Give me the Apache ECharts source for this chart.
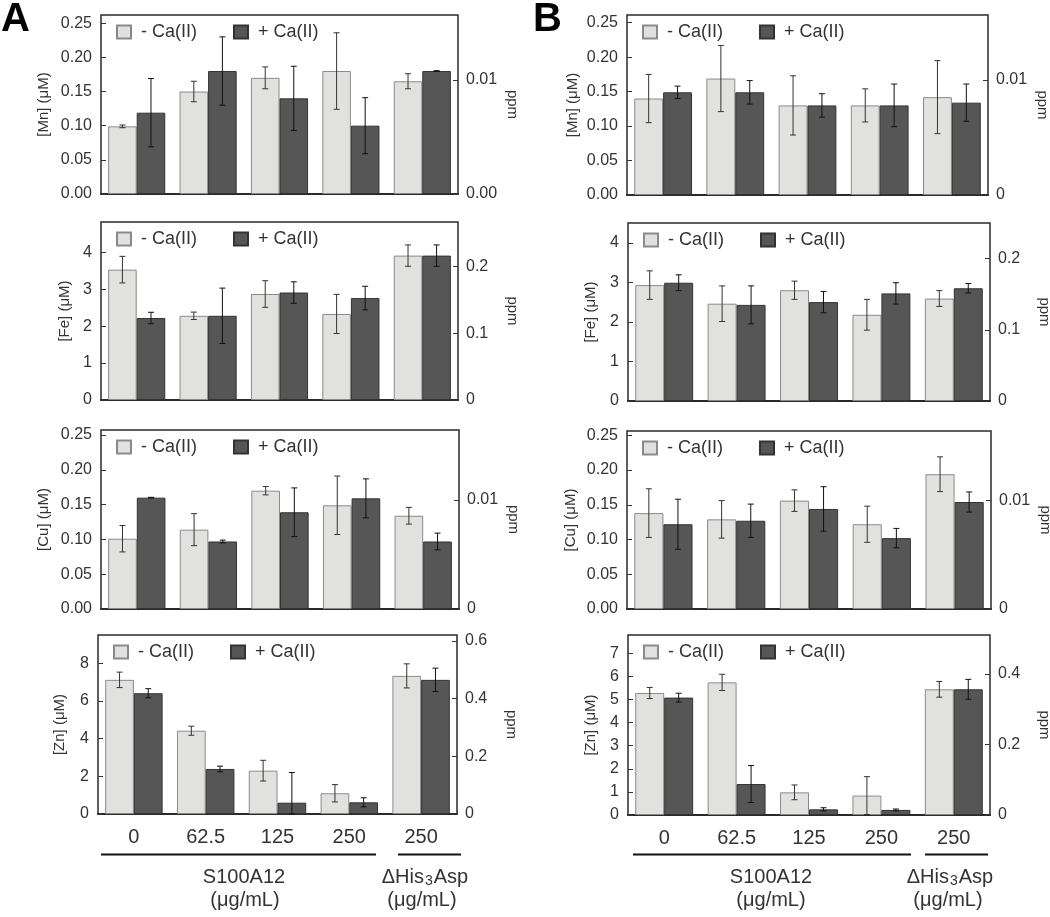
<!DOCTYPE html>
<html><head><meta charset="utf-8">
<script src="https://cdn.jsdelivr.net/npm/echarts@6/dist/echarts.min.js"></script>
<style>html,body{margin:0;padding:0;background:#fff}#c{width:1050px;height:917px}</style>
</head><body><div id="c"></div>
<script>
// ---------- DATA ----------
const categories = ['0', '62.5', '125', '250', '250'];
const seriesNames = ['- Ca(II)', '+ Ca(II)'];

// Panel A (values in µM, errors = half-length of error bars)
const aMnMinus = [0.099, 0.150, 0.170, 0.180, 0.165];
const aMnMinusErr = [0.002, 0.015, 0.016, 0.056, 0.011];
const aMnPlus = [0.119, 0.180, 0.140, 0.100, 0.180];
const aMnPlusErr = [0.050, 0.050, 0.047, 0.041, 0.0005];
const aFeMinus = [3.53, 2.28, 2.87, 2.33, 3.91];
const aFeMinusErr = [0.36, 0.10, 0.36, 0.53, 0.29];
const aFePlus = [2.22, 2.28, 2.91, 2.76, 3.91];
const aFePlusErr = [0.155, 0.75, 0.29, 0.32, 0.29];
const aCuMinus = [0.101, 0.114, 0.170, 0.149, 0.134];
const aCuMinusErr = [0.019, 0.023, 0.006, 0.042, 0.012];
const aCuPlus = [0.160, 0.097, 0.139, 0.159, 0.097];
const aCuPlusErr = [0.0005, 0.002, 0.035, 0.028, 0.012];
const aZnMinus = [7.12, 4.42, 2.30, 1.10, 7.33];
const aZnMinusErr = [0.41, 0.24, 0.55, 0.46, 0.64];
const aZnPlus = [6.41, 2.39, 0.60, 0.62, 7.12];
const aZnPlusErr = [0.24, 0.15, 1.60, 0.24, 0.62];

// Panel B
const bMnMinus = [0.140, 0.169, 0.130, 0.130, 0.142];
const bMnMinusErr = [0.035, 0.048, 0.043, 0.024, 0.053];
const bMnPlus = [0.149, 0.149, 0.130, 0.130, 0.134];
const bMnPlusErr = [0.009, 0.017, 0.017, 0.031, 0.027];
const bFeMinus = [2.93, 2.46, 2.80, 2.18, 2.59];
const bFeMinusErr = [0.36, 0.45, 0.23, 0.39, 0.20];
const bFePlus = [2.99, 2.43, 2.50, 2.72, 2.85];
const bFePlusErr = [0.20, 0.48, 0.27, 0.27, 0.12];
const bCuMinus = [0.138, 0.129, 0.156, 0.122, 0.194];
const bCuMinusErr = [0.035, 0.027, 0.0155, 0.026, 0.025];
const bCuPlus = [0.122, 0.127, 0.144, 0.102, 0.154];
const bCuPlusErr = [0.036, 0.024, 0.032, 0.014, 0.0145];
const bZnMinus = [5.28, 5.74, 0.98, 0.84, 5.44];
const bZnMinusErr = [0.24, 0.35, 0.32, 0.82, 0.34];
const bZnPlus = [5.08, 1.34, 0.245, 0.22, 5.44];
const bZnPlusErr = [0.19, 0.80, 0.07, 0.04, 0.43];

// Tick values / labels
const mnCuTicks = [0, 0.05, 0.10, 0.15, 0.20, 0.25];
const feTicks = [0, 1, 2, 3, 4];
const aZnTicks = [0, 2, 4, 6, 8];
const bZnTicks = [0, 1, 2, 3, 4, 5, 6, 7];
const aMnPpmTicks = [0, 0.01];
const aMnPpmLabels = ['0.00', '0.01'];
const mnCuPpmTicks = [0, 0.01];
const mnCuPpmLabels = ['0', '0.01'];
const fePpmTicks = [0, 0.1, 0.2];
const fePpmLabels = ['0', '0.1', '0.2'];
const aZnPpmTicks = [0, 0.2, 0.4, 0.6];
const aZnPpmLabels = ['0', '0.2', '0.4', '0.6'];
const bZnPpmTicks = [0, 0.2, 0.4];
const bZnPpmLabels = ['0', '0.2', '0.4'];

// ---------- LAYOUT ----------
const FF = 'Arial, "Liberation Sans", Helvetica, sans-serif';
const LIGHT = { color: '#e1e2e0', borderColor: '#8a8a8a', borderWidth: 1 };
const DARK = { color: '#565656', borderColor: '#333333', borderWidth: 1 };

const panels = [
  { g: [101, 15, 357, 179], el: 'Mn', m: aMnMinus, me: aMnMinusErr, p: aMnPlus, pe: aMnPlusErr, lMax: 0.262, lT: mnCuTicks, dec: 2, rMax: 0.0157, rT: aMnPpmTicks, rL: aMnPpmLabels, ng: 50, bottom: false },
  { g: [101, 222, 357, 178], el: 'Fe', m: aFeMinus, me: aFeMinusErr, p: aFePlus, pe: aFePlusErr, lMax: 4.82, lT: feTicks, dec: 0, rMax: 0.2665, rT: fePpmTicks, rL: fePpmLabels, ng: 29, bottom: false },
  { g: [101, 430, 358, 179], el: 'Cu', m: aCuMinus, me: aCuMinusErr, p: aCuPlus, pe: aCuPlusErr, lMax: 0.2572, lT: mnCuTicks, dec: 2, rMax: 0.01642, rT: mnCuPpmTicks, rL: mnCuPpmLabels, ng: 50, bottom: false },
  { g: [98, 635, 359, 179], el: 'Zn', m: aZnMinus, me: aZnMinusErr, p: aZnPlus, pe: aZnPlusErr, lMax: 9.5, lT: aZnTicks, dec: 0, rMax: 0.621, rT: aZnPpmTicks, rL: aZnPpmLabels, ng: 31, bottom: true },
  { g: [627, 15, 361, 180], el: 'Mn', m: bMnMinus, me: bMnMinusErr, p: bMnPlus, pe: bMnPlusErr, lMax: 0.2612, lT: mnCuTicks, dec: 2, rMax: 0.01565, rT: mnCuPpmTicks, rL: mnCuPpmLabels, ng: 47, bottom: false },
  { g: [628, 223, 362, 178], el: 'Fe', m: bFeMinus, me: bFeMinusErr, p: bFePlus, pe: bFePlusErr, lMax: 4.5, lT: feTicks, dec: 0, rMax: 0.25, rT: fePpmTicks, rL: fePpmLabels, ng: 30, bottom: false },
  { g: [627, 431, 364, 178], el: 'Cu', m: bCuMinus, me: bCuMinusErr, p: bCuPlus, pe: bCuPlusErr, lMax: 0.2562, lT: mnCuTicks, dec: 2, rMax: 0.0164, rT: mnCuPpmTicks, rL: mnCuPpmLabels, ng: 49, bottom: false },
  { g: [628, 635, 362, 180], el: 'Zn', m: bZnMinus, me: bZnMinusErr, p: bZnPlus, pe: bZnPlusErr, lMax: 7.79, lT: bZnTicks, dec: 0, rMax: 0.51, rT: bZnPpmTicks, rL: bZnPpmLabels, ng: 30, bottom: true }
];

function findIdx(arr, v) {
  for (let i = 0; i < arr.length; i++) if (Math.abs(arr[i] - v) < 1e-9) return i;
  return -1;
}

function errSeries(i, vals, errs, side, color) {
  return {
    type: 'custom', xAxisIndex: i, yAxisIndex: 2 * i, z: 5, silent: true,
    data: vals.map((v, k) => [k, v, errs[k]]),
    encode: { x: 0, y: 1 },
    renderItem: (params, api) => {
      const k = api.value(0), v = api.value(1), e = api.value(2);
      const band = api.size([1, 0])[0];
      const cx = api.coord([k, v])[0] + side * 0.2 * band;
      const yt = api.coord([k, v + e])[1];
      const yb = api.coord([k, Math.max(0, v - e)])[1];
      const h = 3;
      const st = { stroke: color, lineWidth: 1 };
      return {
        type: 'group', children: [
          { type: 'line', shape: { x1: cx, y1: yt, x2: cx, y2: yb }, style: st },
          { type: 'line', shape: { x1: cx - h, y1: yt, x2: cx + h, y2: yt }, style: st },
          { type: 'line', shape: { x1: cx - h, y1: yb, x2: cx + h, y2: yb }, style: st }
        ]
      };
    }
  };
}

const option = {
  animation: false,
  backgroundColor: '#ffffff',
  textStyle: { fontFamily: FF },
  grid: [], xAxis: [], yAxis: [], series: [], legend: [], graphic: []
};

panels.forEach((P, i) => {
  option.grid.push({
    left: P.g[0], top: P.g[1], width: P.g[2], height: P.g[3],
    show: true, borderColor: '#2a2a2a', borderWidth: 1.5, backgroundColor: 'transparent',
    containLabel: false, outerBoundsMode: 'none'
  });
  option.xAxis.push({
    type: 'category', gridIndex: i, data: categories,
    axisLine: { show: true, lineStyle: { color: '#2a2a2a', width: 2 } },
    axisTick: { show: false },
    axisLabel: { show: P.bottom, fontSize: 20, color: '#333', margin: 13, interval: 0 },
    splitLine: { show: false }
  });
  option.yAxis.push({
    type: 'value', gridIndex: i, position: 'left', min: 0, max: P.lMax,
    interval: P.lT[1] - P.lT[0],
    name: '[' + P.el + '] (\u03bcM)', nameLocation: 'middle', nameGap: P.ng,
    nameTextStyle: { fontSize: 15, color: '#333' },
    axisLine: { show: false },
    axisTick: { show: true, inside: true, length: 5, lineStyle: { color: '#333' }, customValues: P.lT },
    axisLabel: {
      fontSize: 16, color: '#333', margin: 9, customValues: P.lT,
      formatter: v => findIdx(P.lT, v) < 0 ? '' : (P.dec ? Number(v).toFixed(P.dec) : String(Math.round(v)))
    },
    splitLine: { show: false }
  });
  option.yAxis.push({
    type: 'value', gridIndex: i, position: 'right', min: 0, max: P.rMax,
    name: 'ppm', nameLocation: 'middle', nameGap: 47, nameRotate: -90,
    nameTextStyle: { fontSize: 15, color: '#333' },
    axisLine: { show: false },
    axisTick: { show: true, inside: true, length: 5, lineStyle: { color: '#333' }, customValues: P.rT },
    axisLabel: {
      fontSize: 16, color: '#333', margin: 8, customValues: P.rT,
      formatter: v => { const k = findIdx(P.rT, v); return k < 0 ? '' : P.rL[k]; }
    },
    splitLine: { show: false }
  });
  option.series.push({
    type: 'bar', name: seriesNames[0], xAxisIndex: i, yAxisIndex: 2 * i,
    data: P.m, barGap: '0%', barCategoryGap: '20%', itemStyle: LIGHT, silent: true
  });
  option.series.push({
    type: 'bar', name: seriesNames[1], xAxisIndex: i, yAxisIndex: 2 * i,
    data: P.p, barGap: '0%', barCategoryGap: '20%', itemStyle: DARK, silent: true
  });
  option.series.push(errSeries(i, P.m, P.me, -1, '#333333'));
  option.series.push(errSeries(i, P.p, P.pe, 1, '#111111'));
  option.legend.push({
    data: seriesNames, left: P.g[0] + 15, top: P.g[1] + 8, padding: 0,
    orient: 'horizontal', icon: 'rect', itemWidth: 14, itemHeight: 13, itemGap: 36,
    selectedMode: false, formatter: n => ' ' + n,
    textStyle: { fontSize: 18, color: '#333', fontFamily: FF }
  });
});

// panel letters and group annotations
const g = option.graphic;
g.push({ type: 'text', left: 1, top: 0, style: { text: 'A', font: 'bold 40px ' + FF, fill: '#000' } });
g.push({ type: 'text', left: 533, top: 0, style: { text: 'B', font: 'bold 40px ' + FF, fill: '#000' } });
const lineStyle = { stroke: '#111', lineWidth: 2 };
[[101, 376], [398, 461], [633, 911], [925, 988]].forEach(s => {
  g.push({ type: 'line', shape: { x1: s[0], y1: 854.5, x2: s[1], y2: 854.5 }, style: lineStyle });
});
function txt(x, y, t, rich) {
  const o = { type: 'text', x: x, y: y, style: { text: t, font: '20px ' + FF, fill: '#333', align: 'center', verticalAlign: 'middle' } };
  if (rich) o.style.rich = rich;
  return o;
}
const subRich = { s: { fontSize: 14, padding: [9, 1, 0, 1], fontFamily: FF } };
g.push(txt(244, 877, 'S100A12'));
g.push(txt(245, 900, '(\u03bcg/mL)'));
g.push(txt(425, 877, '\u0394His{s|3}Asp', subRich));
g.push(txt(422, 900, '(\u03bcg/mL)'));
g.push(txt(771, 877, 'S100A12'));
g.push(txt(771, 900, '(\u03bcg/mL)'));
g.push(txt(950, 877, '\u0394His{s|3}Asp', subRich));
g.push(txt(948, 900, '(\u03bcg/mL)'));

const chart = echarts.init(document.getElementById('c'), null, { renderer: 'canvas' });
chart.setOption(option);
</script>
</body></html>
